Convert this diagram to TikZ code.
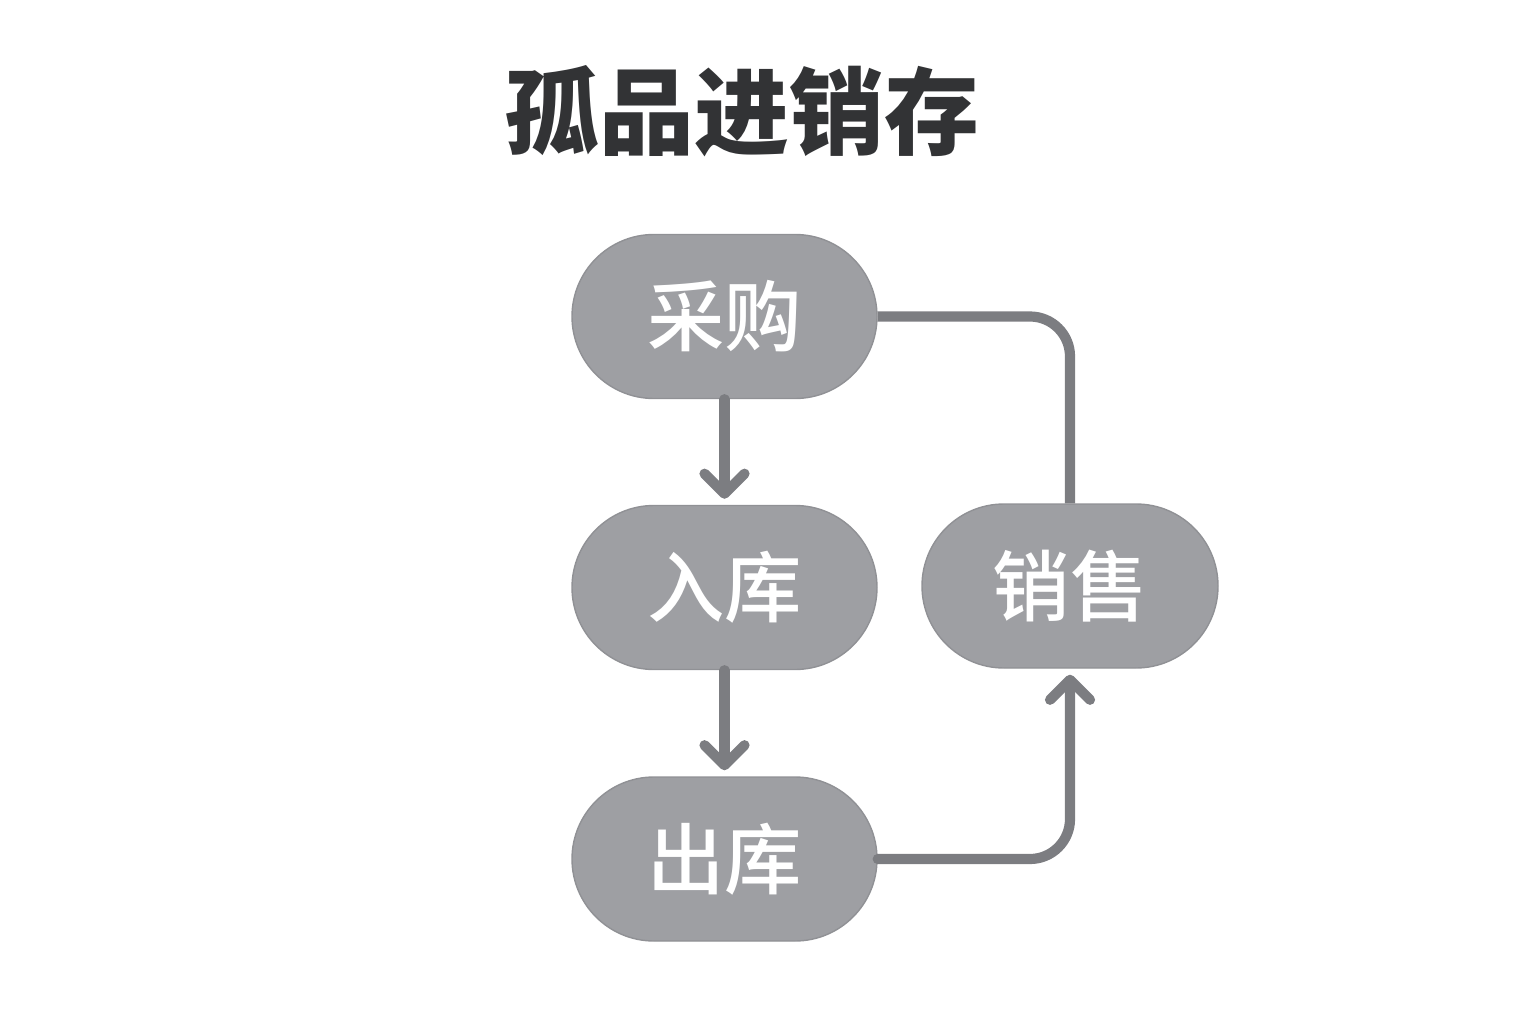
\documentclass[tikz,border=0pt]{standalone}
\usepackage{fontspec}
\setmainfont{Noto Sans CJK SC}
\newfontfamily\nodefont{Noto Sans CJK SC}[UprightFont={* Medium}]
\usetikzlibrary{arrows.meta}
\definecolor{boxgray}{HTML}{9E9FA3}
\definecolor{boxedge}{HTML}{909195}
\definecolor{linegray}{HTML}{7C7D81}
\definecolor{titlegray}{HTML}{323335}
\begin{document}
\begin{tikzpicture}[x=1cm,y=1cm,
    stage/.style={fill=boxgray,draw=boxedge,line width=.4pt,rounded corners=.82cm,
      minimum height=1.64cm,text=white,font=\nodefont\fontsize{22}{22}\selectfont},
    flow/.style={draw=linegray,line width=2.9pt,line cap=round,
      -{Straight Barb[length=2mm,width=4mm,line cap=round,line join=round]}},
    link/.style={draw=linegray,line width=2.9pt,rounded corners=.4cm}]
  \useasboundingbox (0,0) rectangle (15.36,10.24);
  \node[text=titlegray,font=\bfseries\fontsize{27}{27}\selectfont] (title) at (7.42,9.13) {孤品进销存};
  \node[stage,minimum width=3.05cm] (cg) at (7.245,7.075) {采购};
  \node[stage,minimum width=3.05cm] (rk) at (7.245,4.365) {入库};
  \node[stage,minimum width=3.05cm] (ck) at (7.245,1.65) {出库};
  \node[stage,minimum width=2.96cm] (xs) at (10.70,4.38) {销售};
  \draw[flow,shorten >=.06cm] (cg) -- (rk);
  \draw[flow,shorten >=.06cm] (rk) -- (ck);
  \draw[flow,rounded corners=.4cm,shorten >=.06cm] (ck.east) -| (xs.south);
  \draw[link] (xs.north) |- (cg.east);
\end{tikzpicture}
\end{document}
